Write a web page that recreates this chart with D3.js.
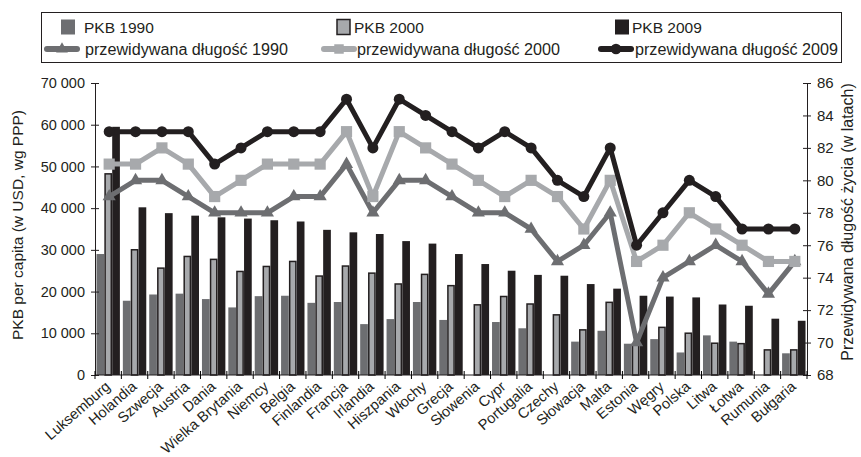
<!DOCTYPE html>
<html>
<head>
<meta charset="utf-8">
<script src="https://cdn.jsdelivr.net/npm/d3@7"></script>
<style>
  body { margin: 0; background: #fff; }
  svg { font-family: "Liberation Sans", Arial, sans-serif; }
</style>
</head>
<body>
<svg id="chart" width="861" height="457"></svg>
<script>
const countries = ["Luksemburg", "Holandia", "Szwecja", "Austria", "Dania", "Wielka Brytania",
  "Niemcy", "Belgia", "Finlandia", "Francja", "Irlandia", "Hiszpania", "Włochy", "Grecja",
  "Słowenia", "Cypr", "Portugalia", "Czechy", "Słowacja", "Malta", "Estonia", "Węgry",
  "Polska", "Litwa", "Łotwa", "Rumunia", "Bułgaria"];

// PKB per capita (USD, PPP)
const gdp1990 = [29000, 17800, 19300, 19500, 18200, 16200, 18900, 19000, 17300, 17500, 12200, 13400,
  17500, 13200, null, 12700, 11200, null, 8000, 10600, 7500, 8600, 5400, 9500, 8000, null, 5200];
const gdp2000 = [48400, 30200, 25800, 28600, 27900, 25000, 26200, 27400, 23900, 26300, 24600, 22000,
  24300, 21600, 17000, 19000, 17200, 14600, 11000, 17600, 7600, 11600, 10200, 7800, 7700, 6200, 6200];
const gdp2009 = [59500, 40200, 38800, 38200, 37800, 37500, 37100, 36800, 34800, 34200, 33800, 32100,
  31500, 29000, 26600, 25000, 24000, 23800, 21800, 20700, 19000, 18800, 18600, 16900, 16600, 13500, 13000];

// przewidywana długość życia (lata)
const life1990 = [79, 80, 80, 79, 78, 78, 78, 79, 79, 81, 78, 80, 80, 79, 78, 78, 77, 75, 76, 78, 70, 74, 75, 76, 75, 73, 75];
const life2000 = [81, 81, 82, 81, 79, 80, 81, 81, 81, 83, 79, 83, 82, 81, 80, 79, 80, 79, 77, 80, 75, 76, 78, 77, 76, 75, 75];
const life2009 = [83, 83, 83, 83, 81, 82, 83, 83, 83, 85, 82, 85, 84, 83, 82, 83, 82, 80, 79, 82, 76, 78, 80, 79, 77, 77, 77];

const gdpTicks = [0, 10000, 20000, 30000, 40000, 50000, 60000, 70000];
const lifeTicks = [68, 70, 72, 74, 76, 78, 80, 82, 84, 86];

const barKeys = ["1990", "2000", "2009"];
const barSeries = { "1990": gdp1990, "2000": gdp2000, "2009": gdp2009 };
const lineSeries = [
  { key: "1990", values: life1990, color: "#6d6e71", marker: "triangle" },
  { key: "2000", values: life2000, color: "#a7a9ac", marker: "square" },
  { key: "2009", values: life2009, color: "#231f20", marker: "circle" },
];
const barFill = { "1990": "#6d6e71", "2000": "#a7a9ac", "2009": "#231f20" };

const plotLeft = 95, plotRight = 807, plotTop = 83, plotBottom = 375;
const svg = d3.select("#chart");

const x0 = d3.scaleBand().domain(countries).range([plotLeft, plotRight]).paddingInner(0.1).paddingOuter(0.05);
const x1 = d3.scaleBand().domain(barKeys).range([0, x0.bandwidth()]).padding(0.02);
const yL = d3.scaleLinear().domain([0, 70000]).range([plotBottom, plotTop]);
const yR = d3.scaleLinear().domain([68, 86]).range([plotBottom, plotTop]);
const step = x0.step();
const cx = c => x0(c) - x0.paddingInner() * step / 2 + step / 2 + 1;

// bars
const groups = svg.append("g").selectAll("g")
  .data(countries)
  .join("g")
  .attr("transform", c => `translate(${x0(c)},0)`);

groups.selectAll("rect")
  .data((c, i) => barKeys.map(k => ({ key: k, value: barSeries[k][i] })).filter(d => d.value != null))
  .join("rect")
  .attr("x", d => x1(d.key) + (d.key === "2000" ? 0.75 : 0))
  .attr("y", d => yL(d.value) + (d.key === "2000" ? 0.75 : 0))
  .attr("width", d => x1.bandwidth() - (d.key === "2000" ? 1.5 : 0))
  .attr("height", d => plotBottom - yL(d.value) - (d.key === "2000" ? 0.75 : 0))
  .attr("fill", d => barFill[d.key])
  .attr("stroke", d => d.key === "2000" ? "#231f20" : "none")
  .attr("stroke-width", 1.5);

// axes
const fmt = d => d === 0 ? "0" : d3.format(",")(d).replace(",", " ");

const axL = svg.append("g")
  .attr("transform", `translate(${plotLeft},0)`)
  .call(d3.axisLeft(yL).tickValues(gdpTicks).tickFormat(fmt).tickSize(4).tickPadding(6));
axL.selectAll(".tick line").attr("x1", 4);

const axR = svg.append("g")
  .attr("transform", `translate(${plotRight},0)`)
  .call(d3.axisRight(yR).tickValues(lifeTicks).tickSize(4).tickPadding(6));
axR.selectAll(".tick line").attr("x1", -4);

const axB = svg.append("g")
  .attr("transform", `translate(0,${plotBottom})`)
  .call(d3.axisBottom(x0).tickSize(0).tickSizeOuter(0));
axB.select(".domain").attr("d", `M${plotLeft},0H${plotRight}`);

axB.selectAll(".boundary")
  .data(countries.map(c => x0(c) - x0.paddingInner() * step / 2).concat([plotRight]))
  .join("line")
  .attr("class", "boundary")
  .attr("x1", d => d).attr("x2", d => d)
  .attr("y1", -4).attr("y2", 4)
  .attr("stroke", "#000");

svg.selectAll(".domain, .tick line").attr("stroke", "#231f20").attr("stroke-width", 1);
svg.selectAll(".tick text").attr("fill", "#231f20").style("font-size", "15px");
axL.selectAll(".tick text").style("font-size", "14.5px");
axB.selectAll(".tick text")
  .attr("text-anchor", "end")
  .attr("dy", null)
  .attr("y", null)
  .attr("transform", "translate(3,13) rotate(-41)")
  .style("font-size", "14.6px");

// lines
const line = d3.line().x((d, i) => cx(countries[i])).y(d => yR(d));

lineSeries.forEach(s => {
  const g = svg.append("g");
  g.append("path")
    .datum(s.values)
    .attr("d", line)
    .attr("fill", "none")
    .attr("stroke", s.color)
    .attr("stroke-width", 5)
    .attr("stroke-linejoin", "round");
  const pts = g.selectAll(".pt").data(s.values).join("path")
    .attr("class", "pt")
    .attr("fill", s.color)
    .attr("transform", (d, i) => `translate(${cx(countries[i])},${yR(d)})`);
  if (s.marker === "circle") pts.attr("d", d3.symbol(d3.symbolCircle, 95));
  if (s.marker === "square") pts.attr("d", d3.symbol(d3.symbolSquare, 125));
  if (s.marker === "triangle") pts.attr("d", d3.symbol(d3.symbolTriangle, 75));
});

// axis titles
svg.append("text")
  .attr("transform", "translate(23,225) rotate(-90)")
  .attr("text-anchor", "middle")
  .attr("fill", "#231f20")
  .style("font-size", "15.5px")
  .text("PKB per capita (w USD, wg PPP)");

svg.append("text")
  .attr("transform", "translate(853,222) rotate(-90)")
  .attr("text-anchor", "middle")
  .attr("fill", "#231f20")
  .style("font-size", "16px")
  .text("Przewidywana długość życia (w latach)");

// legend
const legend = svg.append("g");
legend.append("rect")
  .attr("x", 41.5).attr("y", 12.5).attr("width", 800).attr("height", 50)
  .attr("fill", "#fff").attr("stroke", "#231f20").attr("stroke-width", 1);

const cols = [
  { sq: 61, tx: 84, ln: 44, lt: 85 },
  { sq: 337, tx: 354, ln: 321, lt: 357 },
  { sq: 615, tx: 632, ln: 598, lt: 635 },
];

barKeys.forEach((k, i) => {
  const c = cols[i];
  legend.append("rect")
    .attr("x", c.sq).attr("y", 19.5).attr("width", k === "2000" ? 13 : 14).attr("height", 15)
    .attr("fill", barFill[k])
    .attr("stroke", k === "2000" ? "#231f20" : "none")
    .attr("stroke-width", 1.5);
  legend.append("text")
    .attr("x", c.tx).attr("y", 32.5)
    .attr("fill", "#231f20")
    .style("font-size", "15.5px")
    .text(`PKB ${k}`);
});

lineSeries.forEach((s, i) => {
  const c = cols[i];
  legend.append("line")
    .attr("x1", c.ln + 3).attr("x2", c.ln + 33).attr("y1", 49).attr("y2", 49)
    .attr("stroke", s.color).attr("stroke-width", 6).attr("stroke-linecap", "round");
  const sym = s.marker === "circle" ? d3.symbolCircle : s.marker === "square" ? d3.symbolSquare : d3.symbolTriangle;
  legend.append("path")
    .attr("d", d3.symbol(sym, s.marker === "triangle" ? 60 : 90))
    .attr("transform", `translate(${c.ln + 18},49)`)
    .attr("fill", s.color);
  legend.append("text")
    .attr("x", c.lt).attr("y", 54.5)
    .attr("fill", "#231f20")
    .style("font-size", "16px")
    .attr("textLength", 203)
    .attr("lengthAdjust", "spacingAndGlyphs")
    .text(`przewidywana długość ${s.key}`);
});
</script>
</body>
</html>
